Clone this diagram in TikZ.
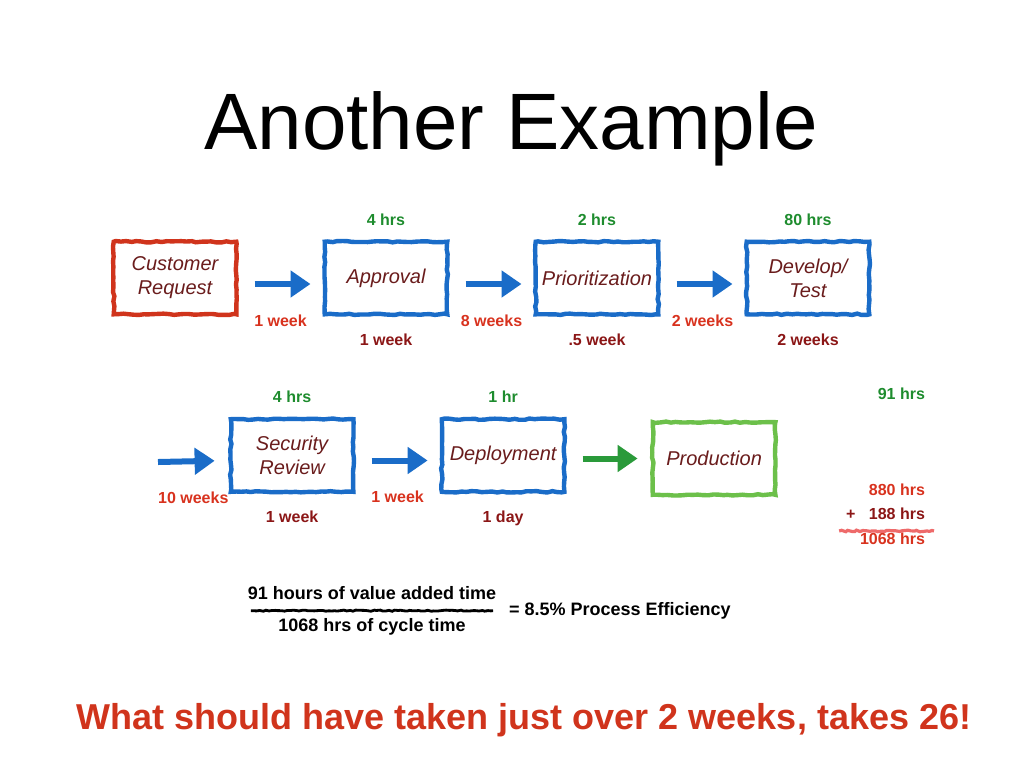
\documentclass[tikz,border=0pt]{standalone}
\usepackage{fontspec}
\setmainfont{Liberation Sans}
\usetikzlibrary{arrows.meta,decorations.pathmorphing,shadows,positioning}
\definecolor{boxred}{HTML}{D0341C}
\definecolor{boxblue}{HTML}{1A6CC8}
\definecolor{boxgreen}{HTML}{6CC04A}
\definecolor{arrgreen}{HTML}{2A9A3A}
\definecolor{hrsgreen}{HTML}{1E8C2E}
\definecolor{waitred}{HTML}{D8321E}
\definecolor{spanred}{HTML}{8B1616}
\definecolor{steptext}{HTML}{6A1C1C}
\definecolor{inkred}{HTML}{EE6A6A}
\begin{document}
\begin{tikzpicture}[x=0.5pt,y=-0.5pt,
    stepbox/.style={draw=boxblue, fill=white, line width=2.2pt, minimum width=61.3pt, minimum height=36.3pt,
      align=center, inner sep=1pt, text=steptext, font=\fontsize{10}{12}\selectfont\itshape,
      decoration={random steps,segment length=2.5pt,amplitude=0.35pt}, decorate,
      drop shadow={opacity=0.15,shadow xshift=1pt,shadow yshift=-1pt}},
    flow/.style={line width=3pt, draw=boxblue, -{Triangle[length=10pt,width=13pt]}},
    hrs/.style={text=hrsgreen, font=\fontsize{8}{9}\selectfont\bfseries},
    span/.style={text=spanred, font=\fontsize{8}{9}\selectfont\bfseries},
    wait/.style={text=waitred, font=\fontsize{8}{9}\selectfont\bfseries},
    frac/.style={font=\fontsize{9}{10}\selectfont\bfseries}]
  \useasboundingbox (0,0) rectangle (1024,768);

  \node[font=\fontsize{40}{42}\selectfont] (title) at (511,129) {Another Example};

  % first row of steps
  \matrix[column sep={105.5pt,between origins}, ampersand replacement=\&] (row1) at (491.5,278)
  {
    \node[stepbox, draw=boxred](CR) {Customer\\Request}; \&
    \node[stepbox](AP) {Approval}; \&
    \node[stepbox](PR) {Prioritization}; \&
    \node[stepbox](DT) {Develop/\\Test};\\
  };
  % second row of steps
  \matrix[column sep={105.5pt,between origins}, ampersand replacement=\&] (row2) at (503,457)
  {
    \node[stepbox](SR) {Security\\Review}; \&
    \node[stepbox](DP) {Deployment}; \&
    \node[stepbox, draw=boxgreen, yshift=-1.5pt](PD) {Production};\\
  };

  \node[hrs, above=3.5pt of AP] (APh) {4 hrs};
  \node[hrs, above=3.5pt of PR] (PRh) {2 hrs};
  \node[hrs, above=3.5pt of DT] (DTh) {80 hrs};
  \node[hrs, above=3.5pt of SR] (SRh) {4 hrs};
  \node[hrs, above=3.5pt of DP] (DPh) {1 hr};
  \node[span, below=5pt of AP] (APs) {1 week};
  \node[span, below=5pt of PR] (PRs) {.5 week};
  \node[span, below=5pt of DT] (DTs) {2 weeks};
  \node[span, below=5pt of SR] (SRs) {1 week};
  \node[span, below=5pt of DP] (DPs) {1 day};

  \draw[flow, shorten <=8pt, shorten >=6pt] ([yshift=-3pt]CR.east) -- ([yshift=-3pt]AP.west)
    node[midway, wait, anchor=north, yshift=-10.5pt] {1 week};
  \draw[flow, shorten <=8pt, shorten >=6pt] ([yshift=-3pt]AP.east) -- ([yshift=-3pt]PR.west)
    node[midway, wait, anchor=north, yshift=-10.5pt] {8 weeks};
  \draw[flow, shorten <=8pt, shorten >=6pt] ([yshift=-3pt]PR.east) -- ([yshift=-3pt]DT.west)
    node[midway, wait, anchor=north, yshift=-10.5pt] {2 weeks};
  \coordinate (in2) at (158,462);
  \draw[flow, shorten >=7pt] (in2) -- ([yshift=-2.5pt]SR.west)
    node[midway, wait, anchor=north, yshift=-10.5pt] {10 weeks};
  \draw[flow, shorten <=8pt, shorten >=6pt] ([yshift=-2.5pt]SR.east) -- ([yshift=-2.5pt]DP.west)
    node[midway, wait, anchor=north, yshift=-10.5pt] {1 week};
  \draw[flow, draw=arrgreen, shorten <=8pt, shorten >=6.5pt] ([yshift=-1.5pt]DP.east) -- (PD.west);

  % totals
  \node[hrs, anchor=east] (sumva) at (932,394) {91 hrs};
  \node[wait, anchor=east] (sumwait) at (932,490) {880 hrs};
  \node[span, anchor=east] (sumspan) at (932,514) {+\ \ \ 188 hrs};
  \node[wait, anchor=east] (sumcyc) at (932,539) {1068 hrs};
  \draw[inkred, line width=1.6pt, decoration={random steps,segment length=1.5pt,amplitude=0.4pt}, decorate]
    ([yshift=-2pt]sumspan.south west) -- ([xshift=1pt,yshift=-2pt]sumspan.south east);

  % efficiency
  \node[frac] (fnum) at (372,593) {91 hours of value added time};
  \node[frac] (fden) at (372,627) {1068 hrs of cycle time};
  \draw[line width=1.4pt, decoration={random steps,segment length=1.5pt,amplitude=0.3pt}, decorate]
    ([xshift=5pt,yshift=-2pt]fnum.south west) -- ([xshift=-5pt,yshift=-2pt]fnum.south east);
  \node[frac, anchor=west] (eff) at (502,611) {= 8.5\% Process Efficiency};

  \node[text=boxred, font=\fontsize{18}{20}\selectfont\bfseries] (moral) at (524,720)
    {What should have taken just over 2 weeks, takes 26!};
\end{tikzpicture}
\end{document}
